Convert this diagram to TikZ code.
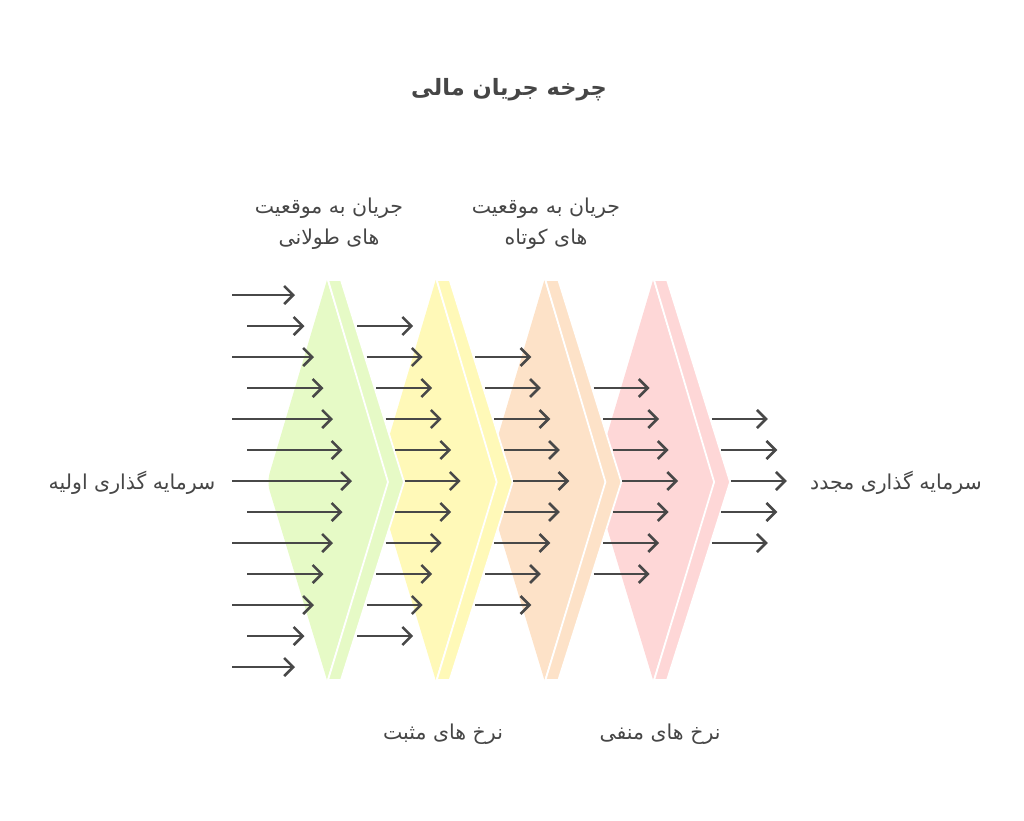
\documentclass[tikz,border=0pt]{standalone}
\usepackage{fontspec}
\usetikzlibrary{arrows.meta}
\newfontfamily\fafont[Script=Arabic]{DejaVu Sans}
\TeXXeTstate=1
\definecolor{stgA}{RGB}{230,250,198}
\definecolor{stgB}{RGB}{255,249,184}
\definecolor{stgC}{RGB}{253,226,200}
\definecolor{stgD}{RGB}{254,215,215}
\definecolor{arrgray}{RGB}{72,72,72}
\definecolor{txtgray}{RGB}{70,70,70}

\begin{document}
\begin{tikzpicture}[x=1pt,y=-1pt,
    flow/.style={draw=arrgray,line width=2.6pt,-{Straight Barb[length=9pt,width=18pt]}},
    lbl/.style={text=txtgray,font=\fafont\fontsize{20.5}{31}\selectfont,align=center}]
  \useasboundingbox (0,0) rectangle (1024,820);

  % stages, the last one first so that each chevron lies over the next
  \foreach \c/\col in {3/stgD,2/stgC,1/stgB,0/stgA} {
    \pgfmathsetmacro\dx{108.7*\c}
    \begin{scope}[xshift=\dx pt]
      \fill[\col] (327,280) -- (388,482) -- (327,680) [rounded corners=9pt] -- (267,482) [sharp corners] -- cycle;
      \fill[\col,draw=white,line width=1.8pt]
        (328,280) -- (341,280) -- (404,482) -- (341,680) -- (328,680) -- (388,482) -- cycle;
    \end{scope}
  }

  % arrows
  \foreach \c in {0,...,4} {
    \pgfmathtruncatemacro\dmax{6-\c}
    \foreach \r in {-\dmax,...,\dmax} {
      \pgfmathsetmacro\xe{352-9.5*abs(\r)+108.7*\c}
      \pgfmathsetmacro\xs{\c==0 ? (isodd(abs(\r)) ? 247 : 232) : \xe-56}
      \draw[flow] (\xs,481+31*\r) -- (\xe,481+31*\r);
    }
  }

  \node[lbl,font=\fafont\bfseries\fontsize{22.5}{26}\selectfont] (ttl) at (509,90) {\beginR چرخه جریان مالی\endR};
  \node[lbl] (src) at (132,483) {\beginR سرمایه گذاری اولیه\endR};
  \node[lbl] (dst) at (896,483) {\beginR سرمایه گذاری مجدد\endR};
  \node[lbl] (longf) at (329,224) {\beginR جریان به موقعیت\endR\\\beginR های طولانی\endR};
  \node[lbl] (shortf) at (546,224) {\beginR جریان به موقعیت\endR\\\beginR های کوتاه\endR};
  \node[lbl] (posr) at (443,734) {\beginR نرخ های مثبت\endR};
  \node[lbl] (negr) at (660,734) {\beginR نرخ های منفی\endR};
\end{tikzpicture}
\end{document}
